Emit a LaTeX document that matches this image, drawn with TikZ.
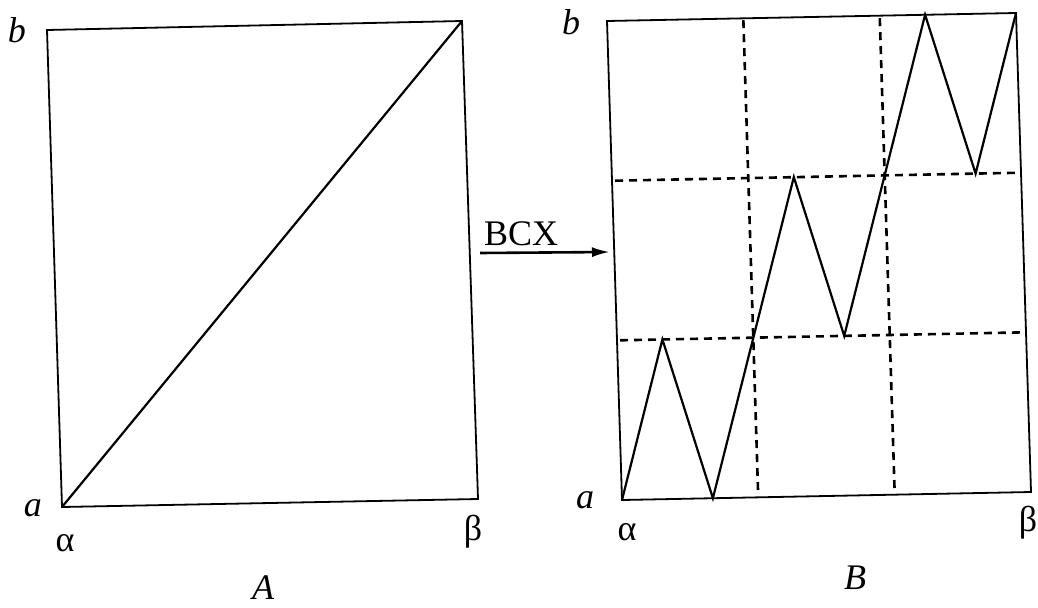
\documentclass[tikz,border=0pt]{standalone}
\usepackage{fontspec}
\setmainfont{Liberation Serif}
\usepackage{xcolor}
\usepackage{tikz}
\usetikzlibrary{arrows.meta}

\begin{document}
\begin{tikzpicture}[x=0.5pt,y=0.5pt]
\definecolor{fillColor}{RGB}{255,255,255}
\path[use as bounding box,fill=fillColor] (0,0) rectangle (1038,607);
\begin{scope}
\definecolor{drawColor}{RGB}{0,0,0}

\path[draw=drawColor,line width= 0.9pt,line join=miter] ( 62.00,100.00) -- (478.00,108.00) -- (462.00,586.00) -- ( 47.00,577.00) -- cycle;

\path[draw=drawColor,line width= 1.1pt] ( 62.00,100.00) -- (462.00,586.00);
\end{scope}
\begin{scope}
\definecolor{drawColor}{RGB}{0,0,0}

\path[draw=drawColor,line width= 1.3pt,dash pattern=on 4pt off 3pt] (615.00,426.30) -- (1021.00,434.30);

\path[draw=drawColor,line width= 1.3pt,dash pattern=on 4pt off 3pt] (620.00,266.70) -- (1026.00,274.70);

\path[draw=drawColor,line width= 1.3pt,dash pattern=on 4pt off 3pt] (758.00,117.00) -- (743.30,588.70);

\path[draw=drawColor,line width= 1.3pt,dash pattern=on 4pt off 3pt] (894.50,119.00) -- (879.70,591.30);

\path[draw=drawColor,line width= 0.9pt,line join=miter] (622.00,107.00) -- (1031.00,115.00) -- (1016.00,594.00) -- (607.00,586.00) -- cycle;

\path[draw=drawColor,line width= 1.1pt,line join=miter] (622.00,107.00) -- (662.40,267.60) -- (712.90,108.80) -- (793.80,429.90) -- (844.20,271.10) -- (925.10,592.20) -- (975.60,433.40) -- (1016.00,594.00);
\end{scope}
\begin{scope}
\definecolor{drawColor}{RGB}{0,0,0}
\coordinate (bcxTail) at (480.00,354.00);
\coordinate (bcxHead) at (610.00,355.00);

\path[draw=drawColor,line width= 1.3pt,-{Latex[length=9pt,width=5pt]}] (bcxTail) -- (bcxHead);

\node[text=drawColor,anchor=base west,inner sep=0pt, outer sep=0pt, scale=  1.8] (bcxLabel) at (484.00,362.00) {BCX};
\end{scope}
\begin{scope}
\definecolor{drawColor}{RGB}{0,0,0}

\node[text=drawColor,inner sep=0pt, outer sep=0pt, scale=  1.8] (leftTop) at ( 17.00,577.00) {\itshape b};

\node[text=drawColor,inner sep=0pt, outer sep=0pt, scale=  1.8] (leftBottom) at ( 33.00, 99.00) {\itshape a};

\node[text=drawColor,inner sep=0pt, outer sep=0pt, scale=  1.8] (leftAlpha) at ( 65.00, 64.00) {α};

\node[text=drawColor,inner sep=0pt, outer sep=0pt, scale=  1.8] (leftBeta) at (473.00, 75.00) {β};

\node[text=drawColor,inner sep=0pt, outer sep=0pt, scale=  1.8] (leftName) at (263.00, 19.00) {\itshape A};

\node[text=drawColor,inner sep=0pt, outer sep=0pt, scale=  1.8] (rightTop) at (571.00,585.00) {\itshape b};

\node[text=drawColor,inner sep=0pt, outer sep=0pt, scale=  1.8] (rightBottom) at (585.00,107.00) {\itshape a};

\node[text=drawColor,inner sep=0pt, outer sep=0pt, scale=  1.8] (rightAlpha) at (627.00, 75.00) {α};

\node[text=drawColor,inner sep=0pt, outer sep=0pt, scale=  1.8] (rightBeta) at (1028.00, 84.00) {β};

\node[text=drawColor,inner sep=0pt, outer sep=0pt, scale=  1.8] (rightName) at (855.00, 29.00) {\itshape B};
\end{scope}
\end{tikzpicture}
\end{document}
